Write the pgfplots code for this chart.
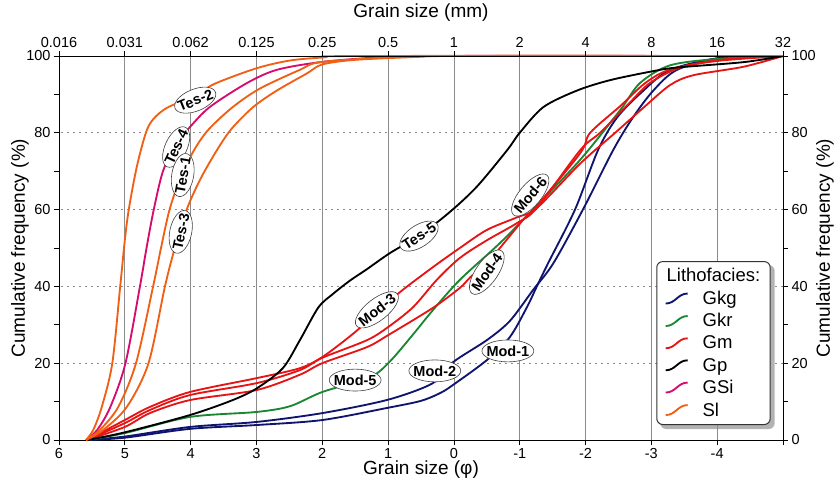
\documentclass[border=0pt]{standalone}
\usepackage{fontspec}
\setmainfont{Liberation Sans}
\usepackage{pgfplots}
\pgfplotsset{compat=1.18}
\usetikzlibrary{shapes.geometric}
\pgfdeclarelayer{background}
\pgfsetlayers{background,main}

\definecolor{gkg}{RGB}{15,20,110}
\definecolor{gkr}{RGB}{25,135,50}
\definecolor{gm}{RGB}{230,20,20}
\definecolor{gsi}{RGB}{215,10,110}
\definecolor{sl}{RGB}{240,95,20}
\definecolor{gridgray}{RGB}{140,140,140}

\newcommand{\tickfont}{\fontsize{14.5}{16}\selectfont}
\newcommand{\labfont}{\fontsize{19}{22}\selectfont}

\tikzset{lab/.style={ellipse, draw=black!75, line width=0.6pt, fill=white,
  inner xsep=-3pt, inner ysep=2.5pt, text height=10.5pt, text depth=0pt,
  font=\bfseries\fontsize{14.5}{14.5}\selectfont}}
\newcommand{\lbl}[4]{\node[lab, rotate=#4] at (axis cs:#1,#2) {#3};}

\pgfplotsset{
  common/.style={
    width=724pt, height=384pt, scale only axis,
    xmin=-5, xmax=6, ymin=0, ymax=100, x dir=reverse,
    xtick={-5,-4,...,6},
    ytick={0,20,...,100}, minor ytick={10,30,...,90},
    tick align=outside, major tick length=5pt, minor tick length=5pt,
    tick style={black, line width=0.7pt},
    tick label style={font=\tickfont},
    /pgf/number format/assume math mode=true,
    axis line style={-, line width=0.8pt},
    x axis line style={-}, y axis line style={-},
  },
}

\begin{document}
\begin{tikzpicture}
\begin{axis}[common, name=ax,
  xtick pos=left, ytick pos=left,
  xticklabels={,-4,-3,-2,-1,0,1,2,3,4,5,6},
  xmajorgrids, ymajorgrids,
  x grid style={gridgray, line width=0.7pt},
  y grid style={gridgray, dash pattern=on 2pt off 4pt, line width=0.9pt},
  xlabel={Grain size (φ)}, ylabel={Cumulative frequency (\%)},
  xlabel style={at={(axis description cs:0.5,-0.078)}, anchor=center, font=\labfont},
  ylabel style={at={(axis description cs:-0.054,0.5)}, anchor=center, font=\labfont},
  clip=false, no markers,
  every axis plot/.append style={line width=1.85pt, smooth, tension=0.5},
  legend image code/.code={\draw[#1] (0pt,-5pt) .. controls (10pt,-5pt) and (12pt,5pt) .. (22pt,5pt);},
  legend cell align=left,
  legend style={name=leg, at={(0.983,0.039)}, anchor=south east, draw=black!80, line width=1pt,
    rounded corners=6pt, fill=white,
    font=\fontsize{18.5}{20}\selectfont, row sep=3.6pt, inner xsep=8pt, inner ysep=5pt,
    /tikz/every odd column/.append style={column sep=12pt}},
]
\addlegendimage{empty legend}
\addlegendentry{\hspace*{-36pt}Lithofacies:}

% Gkg
\addplot[gkg] coordinates {(5.57,0) (5.0,0.6) (4.01,2.9) (3.0,3.9) (2.0,5.2) (1.0,8.4) (0.5,10.2) (0.2,12.3) (0.0,14.5) (-0.5,20.8) (-0.85,26.8) (-1.11,34.6) (-1.26,40) (-1.43,46) (-1.84,60) (-2.19,75.5) (-2.48,84) (-2.88,91) (-3.29,96.4) (-4.05,99.5) (-5,100)};
\addlegendentry{Gkg}
\addplot[gkg, forget plot] coordinates {(5.57,0) (5.0,0.9) (4.01,3.4) (3.0,4.7) (2.0,7) (1.0,10.5) (0.32,14.8) (0.01,20.3) (-0.5,26) (-0.85,31) (-1.2,39) (-1.51,46) (-1.96,60) (-2.42,75.5) (-2.72,84) (-3.03,91) (-3.39,96.4) (-4.05,99.5) (-5,100)};
% Gkr
\addplot[gkr] coordinates {(5.57,0) (5.0,1.8) (4.01,6) (3.0,7.3) (2.49,8.8) (2.0,12.5) (1.27,16.4) (0.97,20.5) (0.62,27.5) (0.32,33.8) (-0.09,41.7) (-0.7,51.3) (-1.2,60) (-1.92,73) (-2.53,86) (-2.83,93) (-3.29,97.6) (-4.05,99.3) (-5,100)};
\addlegendentry{Gkr}
% Gm
\addplot[gm] coordinates {(5.57,0) (5.0,5.2) (4.62,8.6) (4.01,12.5) (3.0,16.1) (2.34,18.7) (2.0,21.6) (1.58,27) (1.17,33) (0.82,38.5) (0.32,45) (-0.09,50) (-0.5,54.7) (-0.96,58) (-1.26,60.4) (-1.92,72) (-2.45,80) (-2.91,87) (-3.29,92.5) (-3.64,95) (-4.4,97.2) (-5,100)};
\addlegendentry{Gm}
\addplot[gm, forget plot] coordinates {(5.57,0) (5.0,4.4) (4.62,7.8) (4.01,11.7) (3.0,14.8) (2.34,18.2) (2.0,21.4) (1.32,26) (1.0,29.4) (0.62,34.6) (0.26,41.7) (-0.09,47.4) (-0.5,52) (-0.96,56.5) (-1.26,60.4) (-1.92,75.5) (-2.22,80) (-2.68,88) (-2.98,93) (-3.44,97) (-4.05,98.8) (-5,100)};
\addplot[gm, forget plot] coordinates {(5.57,0) (5.0,3.4) (4.62,7) (4.01,10.4) (3.0,13) (2.34,17) (2.0,20) (1.32,24.2) (1.0,27.3) (0.32,34.4) (-0.09,39.6) (-0.25,42.4) (-0.55,47) (-1.05,57.3) (-1.26,61) (-1.92,74.7) (-2.07,80) (-2.53,87) (-2.91,93) (-3.29,96.5) (-4.05,99) (-5,100)};
% Gp
\addplot[black] coordinates {(5.57,0) (5.0,2) (4.01,6.5) (3.36,10.4) (2.99,13.5) (2.6,18.7) (2.34,26) (2.06,34.5) (1.84,38) (1.58,41.5) (1.32,44.5) (0.97,48.7) (0.51,53.4) (0.06,59.4) (-0.35,66) (-0.81,75.5) (-1.0,80) (-1.36,86.7) (-1.87,91) (-2.37,93.7) (-3.01,96) (-3.39,97) (-4.4,98.4) (-5,100)};
\addlegendentry{Gp}
% GSi
\addplot[gsi] coordinates {(5.59,0) (5.42,2.6) (5.22,8.6) (4.99,20) (4.77,40) (4.67,50) (4.56,60) (4.42,70) (4.22,77) (4.01,81.5) (3.71,86.7) (3.14,93) (2.69,96.4) (2.03,98.4) (1.2,99.6) (0.5,100) (-5,100)};
\addlegendentry{GSi}
% Sl
\addplot[sl] coordinates {(5.59,0) (5.38,2.6) (5.10,8.6) (4.83,20) (4.57,40) (4.45,50) (4.32,60) (4.14,69) (3.93,76) (3.72,81) (3.36,86.7) (2.95,91.5) (2.34,96.4) (2.03,98.4) (1.0,99.6) (0,100) (-5,100)};
\addlegendentry{Sl}
\addplot[sl, forget plot] coordinates {(5.59,0) (5.48,2.6) (5.35,8.6) (5.19,20) (5.07,40) (5.0,52) (4.94,60) (4.82,71) (4.68,80) (4.57,83.5) (4.36,86.5) (3.93,89.7) (3.63,92.8) (3.0,96.8) (2.5,98.8) (2.0,99.6) (1.4,100) (-5,100)};
\addplot[sl, forget plot] coordinates {(5.59,0) (5.33,2.6) (4.97,8.6) (4.64,20) (4.39,40) (4.24,50) (4.06,60) (3.85,68) (3.6,75.5) (3.38,81) (3.05,86.7) (2.69,91) (2.23,95.5) (2.0,97.8) (1.5,99) (0.5,99.8) (0,100) (-5,100)};

\lbl{3.93}{88.5}{Tes-2}{22}
\lbl{4.22}{76.3}{Tes-4}{65}
\lbl{4.12}{69}{Tes-1}{80}
\lbl{4.15}{54.2}{Tes-3}{78}
\lbl{0.53}{53.1}{Tes-5}{33}
\lbl{1.17}{33.9}{Mod-3}{38}
\lbl{-0.5}{43.7}{Mod-4}{55}
\lbl{-1.16}{63.8}{Mod-6}{50}
\lbl{1.5}{15.6}{Mod-5}{0}
\lbl{0.29}{18}{Mod-2}{0}
\lbl{-0.82}{23.2}{Mod-1}{0}
\end{axis}

\begin{axis}[common, at={(ax.south west)}, anchor=south west,
  axis x line*=top, axis y line*=right,
  xticklabels={32,16,8,4,2,1,0.5,0.25,0.125,0.062,0.031,0.016},
  xlabel={Grain size (mm)}, ylabel={Cumulative frequency (\%)},
  xlabel style={at={(axis description cs:0.5,1.112)}, anchor=center, font=\labfont},
  ylabel style={at={(axis description cs:1.058,0.5)}, anchor=center, font=\labfont},
]
\end{axis}
\begin{pgfonlayer}{background}
\fill[black, opacity=0.3, rounded corners=6pt]
  ([shift={(4pt,-4pt)}]leg.south west) rectangle ([shift={(4pt,-4pt)}]leg.north east);
\end{pgfonlayer}
\pgfresetboundingbox
\path[use as bounding box] ([shift={(-59pt,-45pt)}]ax.south west) rectangle ([shift={(53pt,56pt)}]ax.north east);
\end{tikzpicture}
\end{document}
